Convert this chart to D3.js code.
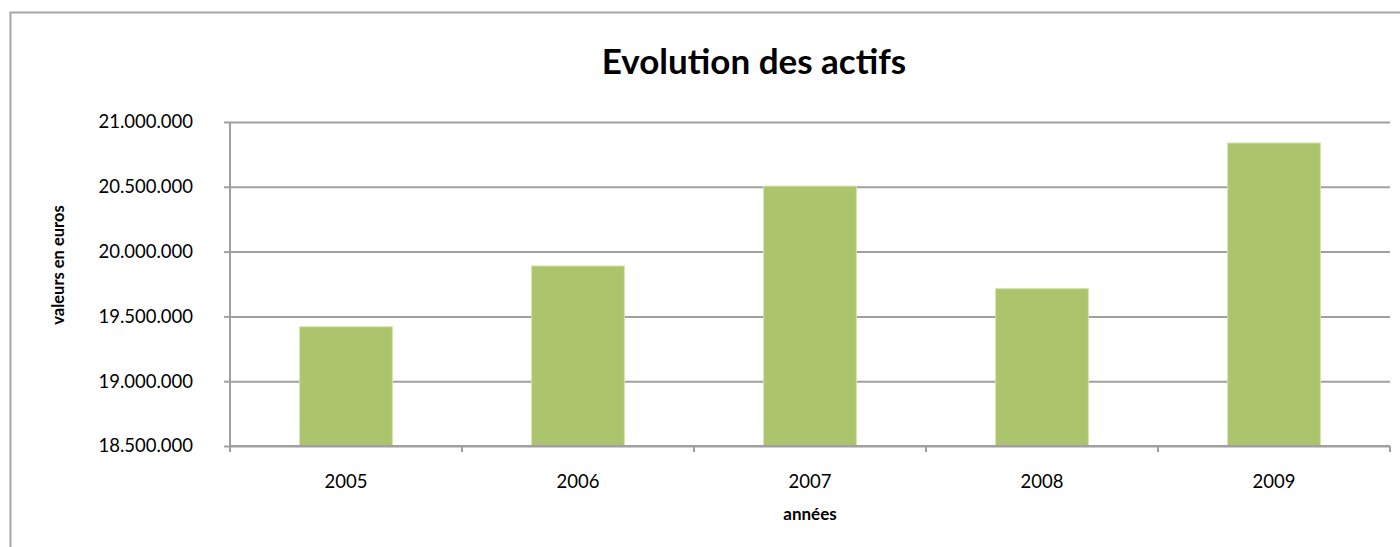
<!DOCTYPE html>
<html lang="fr">
<head>
    <meta charset="utf-8">
    <title>Evolution des actifs</title>
    <script src="https://cdnjs.cloudflare.com/ajax/libs/d3/7.8.5/d3.min.js"></script>
    <style>
        body { margin: 0; background: #fff; }
        svg { display: block; font-family: Lato, "Open Sans", sans-serif; }
        .grid line { stroke: #a0a0a0; stroke-width: 2; }
        .grid path { display: none; }
        .axis path, .axis line { stroke: #a0a0a0; stroke-width: 2; }
        .axis text { fill: #000; font-size: 18.5px; font-family: Lato, sans-serif; }
        .bar { fill: #acc56c; stroke: #d3e1b3; stroke-width: 1; }
    </style>
</head>
<body>
<svg width="1400" height="547"></svg>
<script>
    // donnees
    var annees = ["2005", "2006", "2007", "2008", "2009"];
    var actifs = [19420000, 19889000, 20505000, 19714000, 20838000];
    var yTicks = [18500000, 19000000, 19500000, 20000000, 20500000, 21000000];

    var svg = d3.select("svg");

    var plotLeft = 230, plotRight = 1390, plotTop = 122, plotBottom = 446;

    // cadre du graphique
    svg.append("rect")
        .attr("x", 10.5)
        .attr("y", 12.5)
        .attr("width", 1420)
        .attr("height", 580)
        .attr("fill", "none")
        .attr("stroke", "#a6a6a6")
        .attr("stroke-width", 2);

    var x = d3.scaleBand()
        .domain(annees)
        .range([plotLeft, plotRight])
        .paddingInner(0.6)
        .paddingOuter(0.3);

    var y = d3.scaleLinear()
        .domain([18500000, 21000000])
        .range([plotBottom, plotTop]);

    var fmt = function(d) {
        return d3.format(",")(d).replace(/,/g, ".");
    };

    // lignes de quadrillage
    svg.append("g")
        .attr("class", "grid")
        .attr("transform", "translate(" + plotLeft + ",0)")
        .call(d3.axisLeft(y).tickValues(yTicks).tickSize(-(plotRight - plotLeft)).tickFormat(""));

    // axe vertical
    svg.append("g")
        .attr("class", "axis")
        .attr("transform", "translate(" + plotLeft + ",0)")
        .call(d3.axisLeft(y).tickValues(yTicks).tickSize(6).tickPadding(31).tickFormat(fmt))
        .call(function(g) { g.select(".domain").attr("d", "M0," + (plotBottom + 6) + "V" + plotTop); });

    // barres
    svg.selectAll(".bar")
        .data(annees)
        .enter().append("rect")
        .attr("class", "bar")
        .attr("x", function(d) { return x(d); })
        .attr("y", function(d, i) { return y(actifs[i]); })
        .attr("width", x.bandwidth())
        .attr("height", function(d, i) { return y(18500000) - y(actifs[i]); });

    // axe horizontal
    var xAxis = svg.append("g")
        .attr("class", "axis")
        .attr("transform", "translate(0," + plotBottom + ")")
        .call(d3.axisBottom(x).tickSize(0).tickPadding(29));
    xAxis.select(".domain").attr("d", "M" + plotLeft + ",0H" + plotRight);

    var step = x.step();
    var limites = annees.map(function(d) { return x(d) - x.paddingOuter() * step; });
    limites.push(plotRight);
    xAxis.selectAll(".sep")
        .data(limites)
        .enter().append("line")
        .attr("class", "sep")
        .attr("x1", function(d) { return d; })
        .attr("x2", function(d) { return d; })
        .attr("y1", 0)
        .attr("y2", 6);

    // titres
    svg.append("text")
        .attr("x", 754)
        .attr("y", 74)
        .attr("text-anchor", "middle")
        .attr("font-size", "35px")
        .attr("font-weight", "bold")
        .text("Evolution des actifs");

    svg.append("text")
        .attr("x", (plotLeft + plotRight) / 2)
        .attr("y", 520)
        .attr("text-anchor", "middle")
        .attr("font-size", "17px")
        .attr("font-weight", "bold")
        .text("années");

    svg.append("text")
        .attr("transform", "translate(64,265) rotate(-90)")
        .attr("text-anchor", "middle")
        .attr("font-size", "16.5px")
        .attr("font-weight", "bold")
        .text("valeurs en euros");
</script>
</body>
</html>
